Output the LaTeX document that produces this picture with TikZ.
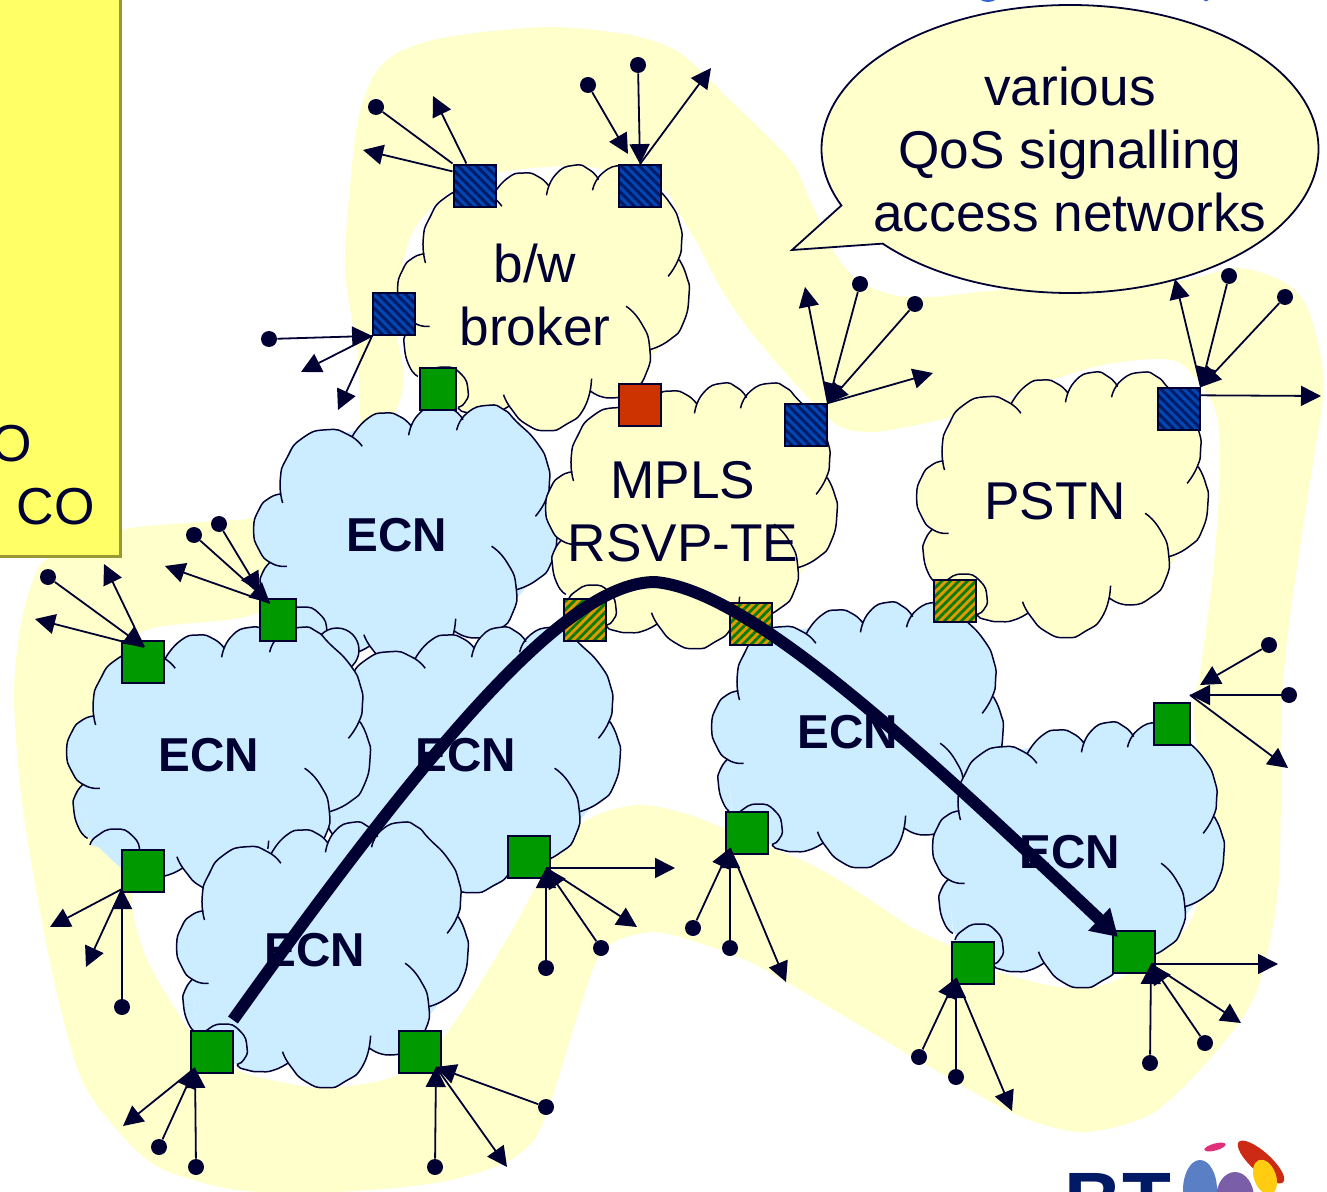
\documentclass[tikz,border=0pt]{standalone}
\usepackage{fontspec}
\setmainfont{Liberation Sans}
\usetikzlibrary{arrows.meta,calc,patterns.meta,shapes.callouts}
\definecolor{inkdark}{HTML}{000033}
\definecolor{bandyellow}{HTML}{FFFFCC}
\definecolor{ecnblue}{HTML}{CCECFF}
\definecolor{notefill}{HTML}{FFFF66}
\definecolor{noteedge}{HTML}{999933}
\definecolor{boxgreen}{HTML}{009900}
\definecolor{boxred}{HTML}{CC3300}
\definecolor{hatchblue}{HTML}{0047B3}
\definecolor{hatchnavy}{HTML}{001A66}
\definecolor{hatchorange}{HTML}{E09A00}
\definecolor{hatchgreen}{HTML}{0A7A0A}
\definecolor{headblue}{HTML}{3366CC}
\definecolor{logoblue}{HTML}{5B7FC4}
\definecolor{logoviolet}{HTML}{7A5FA8}
\definecolor{logored}{HTML}{CC2A14}
\definecolor{logoyellow}{HTML}{FFCC11}
\definecolor{logopink}{HTML}{E0307A}
\tikzset{lobe/.style={smooth,tension=1}}
\newcommand{\cloudlobes}{
	plot[lobe] coordinates {(27.3,98) (25,74.7) (31.3,53) (46.3,33) (69.7,24.7) (89.7,29.7) (103,41.3)}
	plot[lobe] coordinates {(93.7,31.3) (108,13.7) (124.7,8) (139.7,12) (149.7,21.3)}
	plot[lobe] coordinates {(147.3,30.3) (156.3,9.7) (174.7,0.3) (189.7,4.7) (199,14.7)}
	plot[lobe] coordinates {(193,25.3) (203,8) (223,0.3) (238,4.7) (249.7,16.3) (269.7,38) (279.7,59.7) (281.3,78) (278,94.7) (268,111.3)}
	plot[lobe] coordinates {(279,94.7) (286.3,111.3) (288.7,129.7) (283,158) (269.7,174.7) (249.7,184.7)}
	plot[lobe] coordinates {(226.3,141.3) (241.3,158) (249.7,183) (246.3,208) (233,224.7) (211.3,233) (191.3,226.3)}
	plot[lobe] coordinates {(192,213.7) (184.7,243) (166.3,259.7) (148,265.7) (128,259.7) (113,244.7) (104.7,229.7)}
	plot[lobe] coordinates {(109.7,241.3) (96.3,248) (83,249.7) (69.7,248) (60,243.5) (66,238) (69.5,226) (62.5,209) (45.5,202) (28.5,209) (22,218)}
	plot[lobe] coordinates {(19.7,211.3) (11.3,201.3) (6.3,181.3) (8,168) (15.3,157.3)}
	plot[lobe] coordinates {(31.3,161.3) (16.3,158) (4.7,144.7) (-0.3,124.7) (4.7,104.7) (14.7,93) (26.3,89)}
}
\newcommand{\netcloud}[4]{
	\begin{scope}[shift={(#1,#2)},xscale=#3]
		\fill[#4] (30,80) -- (50,35) -- (100,25) -- (150,18) -- (200,15) -- (255,25) -- (280,70) -- (280,100) -- (285,135) -- (265,175) -- (245,200) -- (215,230) -- (190,225) -- (150,260) -- (110,240) -- (80,248) -- (50,240) -- (20,210) -- (15,160) -- (5,125) -- (25,90) -- cycle;
		\fill[#4] \cloudlobes;
		\draw[cloudline] \cloudlobes;
	\end{scope}
}
\begin{document}
\begin{tikzpicture}[
	x=0.5pt,y=-0.5pt,
	cloudline/.style={draw=inkdark,line width=0.75pt},
	label/.style={text=inkdark,align=center,font=\fontsize{26.6}{31.5}\selectfont},
	ecnlabel/.style={text=inkdark,font=\fontsize{23.8}{28}\selectfont\bfseries},
	sqgreen/.style={rectangle,draw=inkdark,line width=0.9pt,inner sep=0pt,minimum width=21pt,minimum height=21pt,fill=boxgreen},
	sqred/.style={sqgreen,fill=boxred},
	sqblue/.style={rectangle,draw=inkdark,line width=0.9pt,inner sep=0pt,minimum width=21pt,minimum height=21pt,preaction={fill=hatchblue},pattern={Lines[angle=-45,distance=3.2pt,line width=1.5pt]},pattern color=hatchnavy},
	sqmix/.style={sqblue,preaction={fill=hatchorange},pattern={Lines[angle=45,distance=3pt,line width=1.4pt]},pattern color=hatchgreen},
	dotend/.style={circle,fill=inkdark,inner sep=0pt,minimum size=8pt},
	conn/.style={draw=inkdark,line width=0.9pt},
	tipped/.style={conn,-{Triangle[length=10pt,width=10pt]}},
	routeline/.style={draw=inkdark,line width=6pt,-{Triangle[length=13pt,width=15pt]}}]
\path[use as bounding box,clip] (0,0) rectangle (1327,1192);

\fill[bandyellow,even odd rule]
	plot[smooth cycle] coordinates {(358,120) (373,77) (397,53) (447,37) (547,27) (630,35) (680,53) (730,100) (790,160) (810,200) (833,250) (857,280) (893,295) (933,297) (1002,290) (1170,282) (1237,268) (1284,282) (1307,307) (1321,357) (1323,397) (1314,457) (1301,540) (1287,640) (1281,720) (1281,800) (1277,900) (1256,993) (1215,1053) (1153,1113) (1086,1132) (1035,1122) (993,1103) (906,1053) (829,1007) (752,963) (690,940) (654,932) (618,940) (597,960) (577,1017) (553,1095) (534,1140) (500,1165) (435,1183) (336,1192) (237,1190) (158,1167) (111,1123) (79,1073) (51,967) (24,817) (14,700) (20,630) (33,580) (50,557) (120,530) (200,522) (253,518) (310,500) (350,470) (360,430) (357,353) (345,270) (350,187)}
	plot[smooth cycle] coordinates {(140,633) (150,700) (160,800) (140,860) (132,905) (146,957) (174,1007) (198,1040) (237,1070) (285,1083) (324,1088) (375,1082) (407,1070) (439,1043) (474,993) (514,927) (551,860) (587,820) (638,805) (690,815) (752,840) (808,863) (855,890) (911,927) (952,947) (993,970) (1060,987) (1112,982) (1174,940) (1195,910) (1212,830) (1193,720) (1200,673) (1213,573) (1220,473) (1217,417) (1203,387) (1180,363) (1153,359) (1102,365) (1052,380) (1002,400) (951,417) (901,428) (867,432) (834,423) (783,370) (747,327) (720,287) (697,243) (677,210) (663,190) (597,168) (547,167) (497,173) (453,190) (423,217) (407,247) (395,320) (400,400) (320,540) (260,612)};

\netcloud{398}{165}{1.008}{bandyellow}
\netcloud{917}{372}{1.008}{bandyellow}
\netcloud{254}{405}{1.05}{ecnblue}
\draw[cloudline,fill=ecnblue] (337,650) circle [radius=22];
\netcloud{546}{383}{1.008}{bandyellow}
\netcloud{317}{627}{1.05}{ecnblue}
\netcloud{67}{627}{1.05}{ecnblue}
\netcloud{177}{822}{1.008}{ecnblue}
\netcloud{712}{602}{1.008}{ecnblue}
\netcloud{933}{722}{1.008}{ecnblue}

\node[label] (broker) at (535,295) {b/w\\broker};
\node[label] (mpls) at (683,512) {MPLS\\RSVP-TE};
\node[label] (pstn) at (1055,501) {PSTN};
\node[ecnlabel] (ecntop) at (397,535) {ECN};
\node[ecnlabel] (ecnleft) at (209,755) {ECN};
\node[ecnlabel] (ecnmid) at (466,755) {ECN};
\node[ecnlabel] (ecnlow) at (315,950) {ECN};
\node[ecnlabel] (ecnright) at (848,732) {ECN};
\node[ecnlabel] (ecnfar) at (1070,852) {ECN};

\node[sqblue] (b1) at (475,186) {};
\node[sqblue] (b2) at (640,186) {};
\node[sqblue] (b3) at (394,314) {};
\node[sqblue] (b4) at (806,425) {};
\node[sqblue] (b5) at (1179,409) {};
\node[sqred] (r1) at (640,405) {};
\node[sqmix] (m1) at (585,620) {};
\node[sqmix] (m2) at (751,624) {};
\node[sqmix] (m3) at (955,601) {};
\node[sqgreen,minimum width=18pt] (g1) at (438,389) {};
\node[sqgreen] (g2) at (143,662) {};
\node[sqgreen,minimum width=18pt] (g3) at (278,620) {};
\node[sqgreen] (g4) at (143,871) {};
\node[sqgreen] (g5) at (212,1052) {};
\node[sqgreen] (g6) at (420,1052) {};
\node[sqgreen] (g7) at (529,857) {};
\node[sqgreen] (g8) at (747,833) {};
\node[sqgreen] (g9) at (973,963) {};
\node[sqgreen] (g10) at (1134,952) {};
\node[sqgreen,minimum width=18pt] (g11) at (1172,724) {};

\coordinate (routestart) at (233,1020);
\coordinate (routetop) at (655,582);
\coordinate (routeend) at (1118,937);
\draw[routeline] (routestart) .. controls (440,730) and (570,582) .. (routetop) .. controls (750,590) and (920,750) .. (routeend);

\node[ellipse callout,draw=inkdark,line width=0.9pt,fill=bandyellow,inner sep=0pt,minimum width=248.5pt,minimum height=144pt,callout absolute pointer={(792,250)},callout pointer arc=18] (balloon) at (1070,149) {};
\node[label] (balloontext) at (balloon) {various\\QoS signalling\\access networks};

\node[dotend] (d1) at (376,107) {};
\coordinate (e1) at (433,96);
\coordinate (e2) at (363,150);
\draw[conn] (d1) -- (b1.north west);
\draw[tipped] (b1.111) -- (e1);
\draw[tipped] (b1.147) -- (e2);

\node[dotend] (d2) at (588,85) {};
\node[dotend] (d3) at (638,65) {};
\coordinate (e3) at (711,68);
\coordinate (b2in) at (628,154);
\draw[tipped] (d2) -- (b2in);
\draw[tipped] (d3) -- (b2.north);
\draw[tipped] (b2.north) -- (e3);

\node[dotend] (d4) at (269,339) {};
\coordinate (e4) at (301,372);
\coordinate (e5) at (338,410);
\draw[tipped] (d4) -- (b3.south west);
\draw[tipped] (b3.south west) -- (e4);
\draw[tipped] (b3.south west) -- (e5);

\node[dotend] (d5) at (860,284) {};
\node[dotend] (d6) at (915,304) {};
\coordinate (e6) at (805,287);
\coordinate (e7) at (933,373);
\draw[tipped] (d5) -- (b4.north east);
\draw[tipped] (d6) -- (b4.north east);
\draw[tipped] (b4.north east) -- (e6);
\draw[tipped] (b4.north east) -- (e7);

\node[dotend] (d7) at (1229,276) {};
\node[dotend] (d8) at (1285,297) {};
\coordinate (e8) at (1175,279);
\coordinate (e9) at (1321,396);
\draw[tipped] (d7) -- (b5.north east);
\draw[tipped] (d8) -- (b5.north east);
\draw[tipped] (b5.north east) -- (e8);
\draw[tipped] (b5.32) -- (e9);

\coordinate (g2hub) at ($(g2)+(1,-15)$);
\node[dotend] (d9) at (48,577) {};
\coordinate (e10) at (104,564);
\coordinate (e11) at (35,619);
\draw[tipped] (d9) -- (g2hub);
\draw[tipped] (g2hub) -- (e10);
\draw[tipped] (g2hub) -- (e11);

\coordinate (g3hub) at ($(g3)+(-8,-17)$);
\coordinate (g3in) at (260,592);
\node[dotend] (d10) at (194,535) {};
\node[dotend] (d11) at (219,524) {};
\coordinate (e12) at (165,566);
\draw[tipped] (d10) -- (g3hub);
\draw[tipped] (d11) -- (g3in);
\draw[tipped] (g3hub) -- (e12);

\coordinate (g4hub) at ($(g4)+(-21,18)$);
\node[dotend] (d12) at (122,1007) {};
\coordinate (e13) at (50,927);
\coordinate (e14) at (86,967);
\draw[tipped] (d12) -- (g4hub);
\draw[tipped] (g4hub) -- (e13);
\draw[tipped] (g4hub) -- (e14);

\coordinate (g5hub) at ($(g5)+(-17,16)$);
\node[dotend] (d13) at (159,1147) {};
\node[dotend] (d14) at (196,1167) {};
\coordinate (e15) at (123,1126);
\draw[tipped] (d13) -- (g5hub);
\draw[tipped] (d14) -- (g5hub);
\draw[tipped] (g5hub) -- (e15);

\coordinate (g6hub) at ($(g6)+(16,15)$);
\node[dotend] (d15) at (435,1167) {};
\node[dotend] (d16) at (546,1107) {};
\coordinate (e16) at (507,1167);
\draw[tipped] (d15) -- (g6hub);
\draw[tipped] (d16) -- (g6hub);
\draw[tipped] (g6hub) -- (e16);

\coordinate (g7hub) at ($(g7)+(17,11)$);
\node[dotend] (d17) at (546,968) {};
\node[dotend] (d18) at (601,948) {};
\coordinate (e17) at (637,927);
\coordinate (e18) at (675,868);
\draw[tipped] (d17) -- (g7hub);
\draw[tipped] (d18) -- (g7hub);
\draw[tipped] (g7hub) -- (e17);
\draw[tipped] (g7hub) -- (e18);

\coordinate (g8hub) at ($(g8)+(-17,15)$);
\node[dotend] (d19) at (693,928) {};
\node[dotend] (d20) at (730,948) {};
\coordinate (e19) at (786,982);
\draw[tipped] (d19) -- (g8hub);
\draw[tipped] (d20) -- (g8hub);
\draw[tipped] (g8hub) -- (e19);

\coordinate (g9hub) at ($(g9)+(-17,15)$);
\node[dotend] (d21) at (919,1057) {};
\node[dotend] (d22) at (956,1077) {};
\coordinate (e20) at (1012,1111);
\draw[tipped] (d21) -- (g9hub);
\draw[tipped] (d22) -- (g9hub);
\draw[tipped] (g9hub) -- (e20);

\coordinate (g10hub) at ($(g10)+(17,12)$);
\node[dotend] (d23) at (1150,1063) {};
\node[dotend] (d24) at (1205,1043) {};
\coordinate (e21) at (1241,1023);
\coordinate (e22) at (1278,964);
\draw[tipped] (d23) -- (g10hub);
\draw[tipped] (d24) -- (g10hub);
\draw[tipped] (g10hub) -- (e21);
\draw[tipped] (g10hub) -- (e22);

\coordinate (g11hub) at ($(g11)+(18,-29)$);
\node[dotend] (d25) at (1269,645) {};
\node[dotend] (d26) at (1289,695) {};
\coordinate (g11in) at (1200,685);
\coordinate (e23) at (1288,768);
\draw[tipped] (d25) -- (g11in);
\draw[tipped] (d26) -- (g11hub);
\draw[tipped] (g11hub) -- (e23);

\filldraw[fill=notefill,draw=noteedge,line width=1.5pt] (-10,-10) rectangle (120,556);
\node[label,font=\fontsize{26}{31.5}\selectfont] (noteo) at (12,444) {O};
\node[label,font=\fontsize{26}{31.5}\selectfont] (noteco) at (56,507) {CO};

\fill[headblue] (988,-6) ellipse [x radius=11,y radius=8];
\fill[headblue] (1206,-4) ellipse [x radius=4,y radius=5.5];

\node[anchor=base west,text=hatchnavy,font=\fontsize{40}{40}\selectfont\bfseries,inner sep=0pt] (bttext) at (1064,1228) {BT};
\fill[logoblue] (1200,1190) ellipse [x radius=17,y radius=30];
\fill[logoviolet] (1235,1198) ellipse [x radius=19,y radius=26];
\fill[logored] (1261,1162) ellipse [x radius=30,y radius=10,rotate=-42];
\fill[logoyellow] (1265,1177) ellipse [x radius=11,y radius=18,rotate=20];
\fill[logopink] (1215,1147) ellipse [x radius=11,y radius=3.5,rotate=15];
\end{tikzpicture}
\end{document}
